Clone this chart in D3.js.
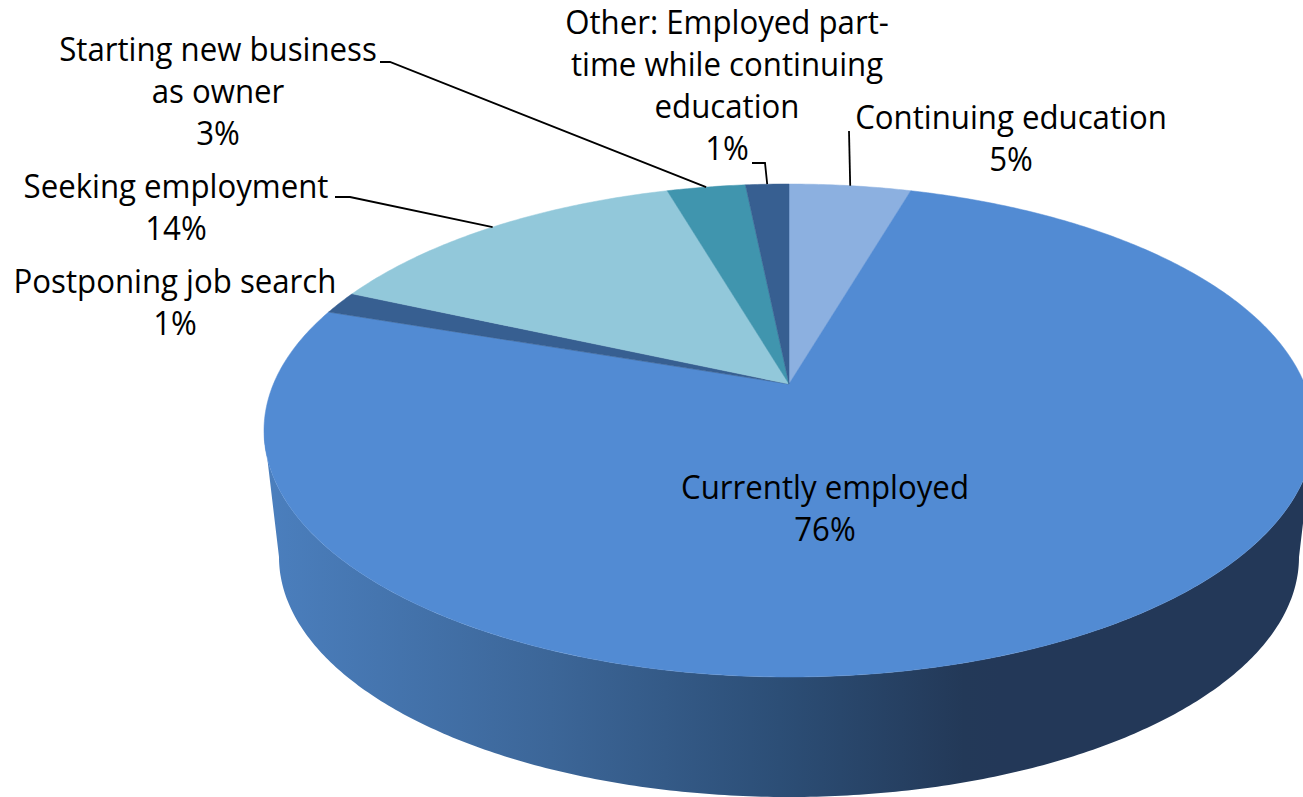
<!DOCTYPE html>
<html>
<head>
<meta charset="utf-8">
<script src="https://cdn.jsdelivr.net/npm/d3@7"></script>
<style>
    body { margin: 0; background: #fff; }
    svg { display: block; }
    text { font-family: "Open Sans", sans-serif; font-size: 32.5px; fill: #000; }
</style>
</head>
<body>
<svg></svg>
<script>
// clockwise from 12 o'clock
var categories = ['Continuing education', 'Currently employed', 'Postponing job search',
    'Seeking employment', 'Starting new business as owner', 'Other: Employed part-time while continuing education'];
var shares = [4.5, 75.7, 1.5, 13.8, 2.9, 1.6];
var percentLabels = ['5%', '76%', '1%', '14%', '3%', '1%'];
var labelLines = [
    ['Continuing education'],
    ['Currently employed'],
    ['Postponing job search'],
    ['Seeking employment'],
    ['Starting new business', 'as owner'],
    ['Other: Employed part-', 'time while continuing', 'education']
];
var sliceColors = ['#8cb0e0', '#528bd3', '#375f91', '#92c8da', '#4095ae', '#375f91'];

var width = 1303;
var height = 797;
var lineHeight = 42;

// perspective of the disc: each plane is an ellipse, tilt moves the pie centre off the ellipse centre
var tilt = 0.1886;
var topPlane = { cx: 789, cy: 430.5, rx: 525, ry: 246.5 };
var bottomPlane = { cx: 789, cy: 557, rx: 510, ry: 240 };

function project(plane, angle) {
    var u = Math.sin(angle);
    var v = -Math.cos(angle);
    var d = 1 - tilt * v;
    var w = Math.sqrt(1 - tilt * tilt);
    return [
        plane.cx + plane.rx * w * u / d,
        plane.cy - plane.ry * tilt + plane.ry * (1 - tilt * tilt) * v / d
    ];
}

function rim(plane, a0, a1) {
    var n = Math.max(2, Math.ceil((a1 - a0) / 0.01));
    return d3.range(n + 1).map(function(i) {
        return project(plane, a0 + (a1 - a0) * i / n);
    });
}

var svg = d3.select('svg')
    .attr('width', width)
    .attr('height', height);

var pieData = d3.pie().sort(null).value(function(d) { return d; })(shares);
var line = d3.line();

// wall shading, runs left to right across the front
var gradient = svg.append('defs')
    .append('linearGradient')
        .attr('id', 'wall')
        .attr('gradientUnits', 'userSpaceOnUse')
        .attr('x1', 264).attr('x2', 1000)
        .attr('y1', 0).attr('y2', 0);
[[0, '#4b7fbe'], [0.39, '#3c6698'], [0.7, '#2c4e76'], [0.95, '#233958'], [1, '#233858']].forEach(function(s) {
    gradient.append('stop').attr('offset', s[0]).attr('stop-color', s[1]);
});

// side wall runs between the two points where the rim is widest
var tangent = Math.PI / 2 + Math.asin(tilt);
var frontTop = rim(topPlane, tangent, Math.PI * 2 - tangent);
var frontBottom = rim(bottomPlane, tangent, Math.PI * 2 - tangent).reverse();

svg.append('path')
    .attr('d', line(frontTop.concat(frontBottom)) + 'Z')
    .attr('fill', 'url(#wall)');

// top face
var apex = [topPlane.cx, topPlane.cy - topPlane.ry * tilt];

svg.selectAll('path.slice')
    .data(pieData)
    .enter()
    .append('path')
        .classed('slice', true)
        .attr('d', function(d) {
            return line([apex].concat(rim(topPlane, d.startAngle, d.endAngle))) + 'Z';
        })
        .attr('fill', function(d, i) { return sliceColors[i]; })
        .attr('stroke', function(d, i) { return sliceColors[i]; })
        .attr('stroke-width', 0.5);

// label blocks: centre x and first baseline, elbow is the flat start of the leader
var labelSpots = [
    { x: 1011, y: 129, elbow: [[849, 131]] },
    { x: 825, y: 499 },
    { x: 175, y: 293 },
    { x: 176, y: 198, elbow: [[335, 197], [350, 197]] },
    { x: 218, y: 61, elbow: [[380, 62], [390, 62]] },
    { x: 727, y: 34, elbow: [[752, 163], [765, 163]] }
];

pieData.forEach(function(d, i) {
    var spot = labelSpots[i];
    if (spot.elbow) {
        var end = project(topPlane, (d.startAngle + d.endAngle) / 2);
        svg.append('path')
            .attr('d', line(spot.elbow.concat([end])))
            .attr('fill', 'none')
            .attr('stroke', '#000')
            .attr('stroke-width', 1.8);
    }
    labelLines[i].concat([percentLabels[i]]).forEach(function(txt, j) {
        // squeezed a little, the original face is narrower than Open Sans
        svg.append('text')
            .attr('transform', 'translate(' + spot.x + ',' + (spot.y + j * lineHeight) + ') scale(0.96,1)')
            .attr('text-anchor', 'middle')
            .text(txt);
    });
});
</script>
</body>
</html>
